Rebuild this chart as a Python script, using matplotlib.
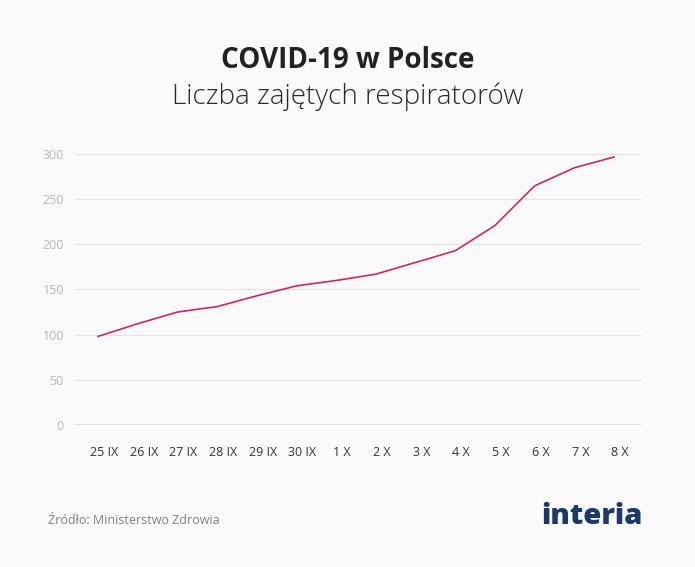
import matplotlib.pyplot as plt
import matplotlib.transforms as mtransforms

days = ["25 IX", "26 IX", "27 IX", "28 IX", "29 IX", "30 IX", "1 X",
        "2 X", "3 X", "4 X", "5 X", "6 X", "7 X", "8 X"]
ventilators = [98, 112, 125, 131, 143, 154, 160, 167, 180, 193, 221, 265, 285, 297]
y_ticks = [0, 50, 100, 150, 200, 250, 300]

BG = "#fafafa"
plt.rcParams["font.family"] = ["Open Sans", "DejaVu Sans"]

fig = plt.figure(figsize=(6.95, 5.67), dpi=100, facecolor=BG)
ax = fig.add_axes([75 / 695, 1 - 424.7 / 567, 566 / 695, 270.4 / 567], facecolor=BG)

x = list(range(len(days)))
ax.plot(x, ventilators, color="#d6245e", linewidth=1.2, zorder=3)

ax.set_xlim(-0.58, len(days) - 1 + 0.68)
ax.set_ylim(0, 300)
ax.set_yticks(y_ticks)
ax.set_xticks(x)
ax.set_xticklabels(days)

for v in y_ticks:
    ax.axhline(v, color="#e3e3e3" if v else "#e0e0e0", linewidth=0.8 if v else 2.2, zorder=1)

for s in ax.spines.values():
    s.set_visible(False)
ax.tick_params(axis="both", length=0)
ax.tick_params(axis="y", colors="#b8b8b8", labelsize=9, pad=8)
ax.tick_params(axis="x", colors="#333333", labelsize=9, pad=15)
offset = mtransforms.ScaledTranslation(6 / 100, 0, fig.dpi_scale_trans)
for lbl in ax.get_xticklabels():
    lbl.set_transform(lbl.get_transform() + offset)

fig.text(0.5, 1 - 60 / 567, "COVID-19 w Polsce", ha="center", va="center",
         fontsize=20, fontweight="bold", color="#222222")
fig.text(0.5, 1 - 97 / 567, "Liczba zajętych respiratorów", ha="center", va="center",
         fontsize=20, fontweight="light", color="#2a2a2a")
fig.text(48 / 695, 1 - 521 / 567, "Źródło: Ministerstwo Zdrowia", ha="left", va="center",
         fontsize=9, color="#808080")
fig.text(643 / 695, 1 - 516 / 567, "interia", ha="right", va="center",
         fontsize=21, fontweight="heavy", color="#1b3a6b")

fig.savefig("out.png", dpi=100, facecolor=BG)
